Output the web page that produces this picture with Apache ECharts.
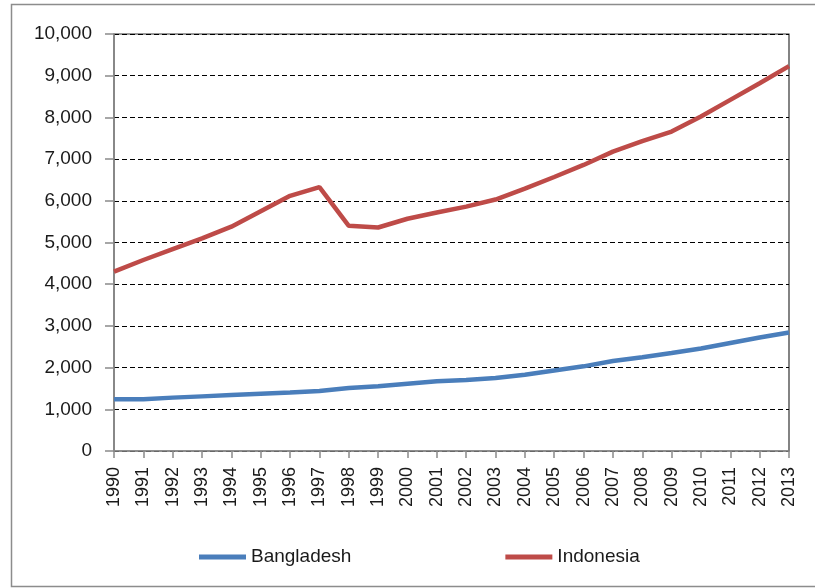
<!DOCTYPE html>
<html>
<head>
<meta charset="utf-8">
<script src="https://cdn.jsdelivr.net/npm/echarts@6/dist/echarts.min.js"></script>
<style>
html,body{margin:0;padding:0;background:#fff;}
#chart{width:815px;height:588px;}
</style>
</head>
<body>
<div id="chart"></div>
<script>
var years = ['1990','1991','1992','1993','1994','1995','1996','1997','1998','1999','2000','2001','2002','2003','2004','2005','2006','2007','2008','2009','2010','2011','2012','2013'];
var bangladesh = [1240,1240,1280,1310,1340,1370,1400,1440,1510,1550,1610,1670,1700,1750,1830,1930,2030,2160,2250,2350,2460,2590,2720,2840];
var indonesia = [4300,4580,4840,5100,5380,5750,6120,6330,5400,5360,5570,5720,5860,6030,6290,6570,6860,7180,7430,7660,8020,8420,8820,9230];
var yTicks = {min:0, max:10000, interval:1000};

var chart = echarts.init(document.getElementById('chart'));
var font = 'Liberation Sans';
chart.setOption({
  animation:false,
  backgroundColor:'#ffffff',
  graphic:[{
    type:'rect', silent:true,
    shape:{x:11.5, y:4.5, width:820, height:582},
    style:{fill:'none', stroke:'#8c8c8c', lineWidth:1.5}
  }],
  grid:{left:114, top:34, right:26, bottom:137, show:true, borderColor:'#333', borderWidth:1.2, backgroundColor:'transparent'},
  legend:{
    left:194, top:541, itemWidth:47, itemHeight:5, itemGap:154,
    icon:'rect',
    data:['Bangladesh','Indonesia'],
    textStyle:{fontFamily:font, fontSize:19, color:'#1a1a1a', lineHeight:22}
  },
  xAxis:{
    type:'category', data:years, boundaryGap:false,
    axisLine:{lineStyle:{color:'#8a8a8a', width:1.5}},
    axisTick:{show:true, interval:0, length:7, lineStyle:{color:'#8a8a8a', width:1.5}},
    axisLabel:{interval:0, rotate:90, margin:16, fontFamily:font, fontSize:18, color:'#1a1a1a'},
    splitLine:{show:false}
  },
  yAxis:{
    type:'value', min:yTicks.min, max:yTicks.max, interval:yTicks.interval,
    axisLine:{show:true, lineStyle:{color:'#8a8a8a', width:1.5}},
    axisTick:{show:true, length:9, lineStyle:{color:'#8a8a8a', width:1.5}},
    axisLabel:{margin:22, fontFamily:font, fontSize:19, color:'#1a1a1a',
      formatter:function(v){return v.toLocaleString('en-US');}},
    splitLine:{show:true, lineStyle:{color:'#000', width:1, type:[5,3]}}
  },
  series:[
    {name:'Bangladesh', type:'line', data:bangladesh, showSymbol:false, symbol:'none',
     color:'#4A7EBB', lineStyle:{width:4.5, color:'#4A7EBB'}},
    {name:'Indonesia', type:'line', data:indonesia, showSymbol:false, symbol:'none',
     color:'#BE4B48', lineStyle:{width:4.5, color:'#BE4B48'}}
  ]
});
</script>
</body>
</html>
